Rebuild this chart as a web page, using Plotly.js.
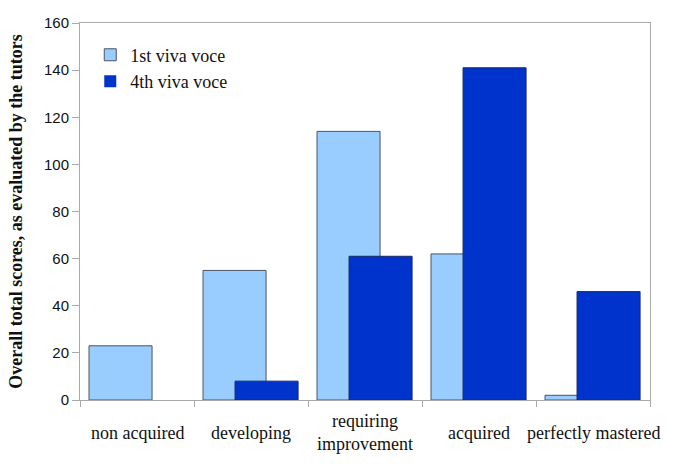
<!DOCTYPE html>
<html>
<head>
<meta charset="utf-8">
<script src="https://cdn.plot.ly/plotly-3.0.1.min.js"></script>
<style>
  body { margin: 0; background: #fff; }
  #grafico { width: 685px; height: 464px; }
</style>
</head>
<body>
<div id="grafico"></div>
<script>
// categorias y valores
const categorias = ["non acquired", "developing", "requiring improvement", "acquired", "perfectly mastered"];
const etiquetas = ["non acquired", "developing", "requiring<br>improvement", "acquired", "perfectly mastered"];
const primeraViva = [23, 55, 114, 62, 2];
const cuartaViva = [0, 8, 61, 141, 46];

const serif = 'Liberation Serif, Times New Roman, serif';

const data = [
    {
        x: categorias,
        y: primeraViva,
        type: 'bar',
        name: '1st viva voce',
        width: 0.553,
        offset: -0.421,
        marker: { color: '#99ccff', line: { color: '#4a5566', width: primeraViva.map(v => v > 0 ? 1 : 0) } }
    },
    {
        x: categorias,
        y: cuartaViva,
        type: 'bar',
        name: '4th viva voce',
        width: 0.553,
        offset: -0.14,
        marker: { color: '#0033cc', line: { color: '#1a2a66', width: cuartaViva.map(v => v > 0 ? 1 : 0) } }
    }
];

// etiquetas del eje x como anotaciones, centradas verticalmente
const anotaciones = categorias.map((c, i) => ({
    x: c,
    xref: 'x',
    y: -0.087,
    yref: 'paper',
    yanchor: 'middle',
    text: etiquetas[i],
    showarrow: false,
    font: { family: serif, size: 18, color: '#111' }
}));

const layout = {
    width: 685,
    height: 464,
    margin: { l: 80, r: 35, t: 23, b: 64, autoexpand: false },
    paper_bgcolor: '#fff',
    plot_bgcolor: '#fff',
    barmode: 'overlay',
    showlegend: true,
    legend: {
        x: 0.018,
        y: 0.964,
        xanchor: 'left',
        yanchor: 'top',
        bgcolor: 'rgba(0,0,0,0)',
        font: { family: serif, size: 18, color: '#111' },
        tracegroupgap: 0,
        itemwidth: 30
    },
    xaxis: {
        type: 'category',
        range: [-0.5, 4.5],
        showticklabels: false,
        tickson: 'boundaries',
        ticks: 'outside',
        ticklen: 6,
        tickcolor: '#aaa',
        showline: true,
        linecolor: '#aaa',
        mirror: true,
        showgrid: false,
        zeroline: false,
        fixedrange: true
    },
    yaxis: {
        range: [0, 160],
        dtick: 20,
        ticks: 'outside',
        ticklen: 7,
        tickcolor: '#aaa',
        showline: true,
        linecolor: '#aaa',
        mirror: true,
        showgrid: false,
        zeroline: false,
        automargin: false,
        tickfont: { family: 'Liberation Sans, Arial, sans-serif', size: 15, color: '#111' },
        title: {
            text: '<b>Overall total scores, as evaluated by the tutors</b>',
            font: { family: serif, size: 18, color: '#111' },
            standoff: 16
        }
    },
    annotations: anotaciones
};

Plotly.newPlot('grafico', data, layout, { staticPlot: true });
</script>
</body>
</html>
